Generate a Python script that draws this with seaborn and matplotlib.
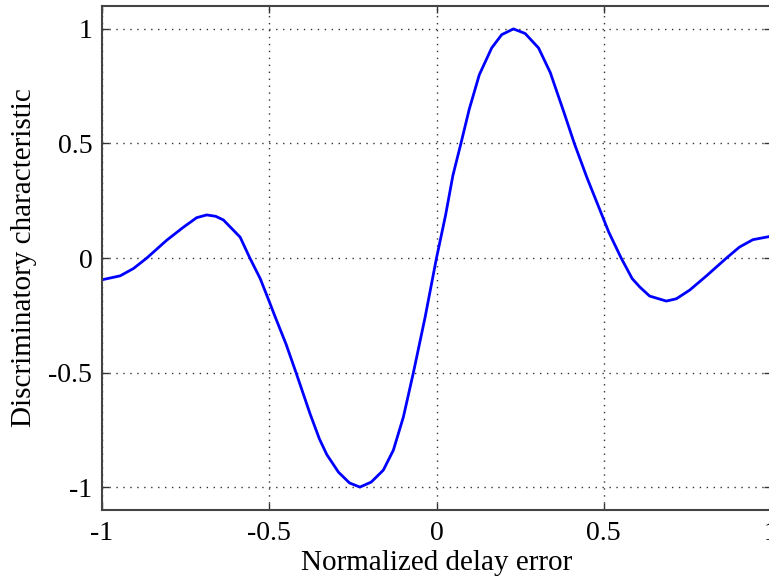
import matplotlib
matplotlib.use("Agg")
import matplotlib.pyplot as plt
import seaborn as sns
import pandas as pd

delay_error = [-1.000, -0.946, -0.906, -0.866, -0.807, -0.757, -0.717, -0.687, -0.660, -0.637,
               -0.587, -0.558, -0.527, -0.500, -0.482, -0.450, -0.420, -0.378, -0.350, -0.328,
               -0.293, -0.260, -0.229, -0.195, -0.159, -0.129, -0.099, -0.069, -0.034, 0.000,
               0.027, 0.049, 0.073, 0.098, 0.128, 0.165, 0.195, 0.230, 0.265, 0.305,
               0.340, 0.380, 0.412, 0.450, 0.495, 0.515, 0.552, 0.585, 0.608, 0.637,
               0.687, 0.717, 0.757, 0.807, 0.867, 0.906, 0.946, 1.000]
discriminator = [-0.095, -0.078, -0.046, 0.000, 0.077, 0.134, 0.176, 0.188, 0.182, 0.166,
                 0.091, 0.000, -0.090, -0.190, -0.258, -0.375, -0.500, -0.680, -0.790, -0.858,
                 -0.935, -0.982, -1.000, -0.978, -0.926, -0.839, -0.694, -0.500, -0.258, 0.000,
                 0.186, 0.360, 0.500, 0.650, 0.800, 0.917, 0.975, 1.000, 0.980, 0.917,
                 0.810, 0.640, 0.500, 0.350, 0.186, 0.113, 0.000, -0.090, -0.127, -0.166,
                 -0.188, -0.178, -0.140, -0.078, 0.000, 0.048, 0.080, 0.095]

xticks = [-1, -0.5, 0, 0.5, 1]
xtick_labels = ["-1", "-0.5", "0", "0.5", "1"]
yticks = [-1, -0.5, 0, 0.5, 1]
ytick_labels = ["-1", "-0.5", "0", "0.5", "1"]

df = pd.DataFrame({"x": delay_error, "y": discriminator})

sns.set_theme(style="white")
plt.rcParams['font.family'] = ['Liberation Serif', 'DejaVu Serif']

fig = plt.figure(figsize=(7.69, 5.81), dpi=100)
ax = fig.add_axes([102/769, 1 - 510/581, 669/769, 504/581])

sns.lineplot(data=df, x="x", y="y", ax=ax, color=(0, 0, 1), linewidth=2.0)

ax.set_xlim(-1, 1)
ax.set_ylim(-1.1, 1.1)
ax.set_xticks(xticks)
ax.set_xticklabels(xtick_labels)
ax.set_yticks(yticks)
ax.set_yticklabels(ytick_labels)
ax.grid(True, linestyle=(0, (1, 4)), color="black", linewidth=1.0, alpha=0.8)
ax.tick_params(direction="in", length=5, width=1, colors="#333333",
               labelsize=20, labelcolor="black", top=True, right=True,
               bottom=True, left=True)
ax.tick_params(axis="y", pad=7)
ax.tick_params(axis="x", pad=8)
for s in ax.spines.values():
    s.set_color("#444444")
    s.set_linewidth(1.5)
ax.set_xlabel("Normalized delay error", fontsize=21, color="black", labelpad=3)
ax.set_ylabel("Discriminatory characteristic", fontsize=21, color="black", labelpad=8)

fig.savefig("out.png", dpi=100)
